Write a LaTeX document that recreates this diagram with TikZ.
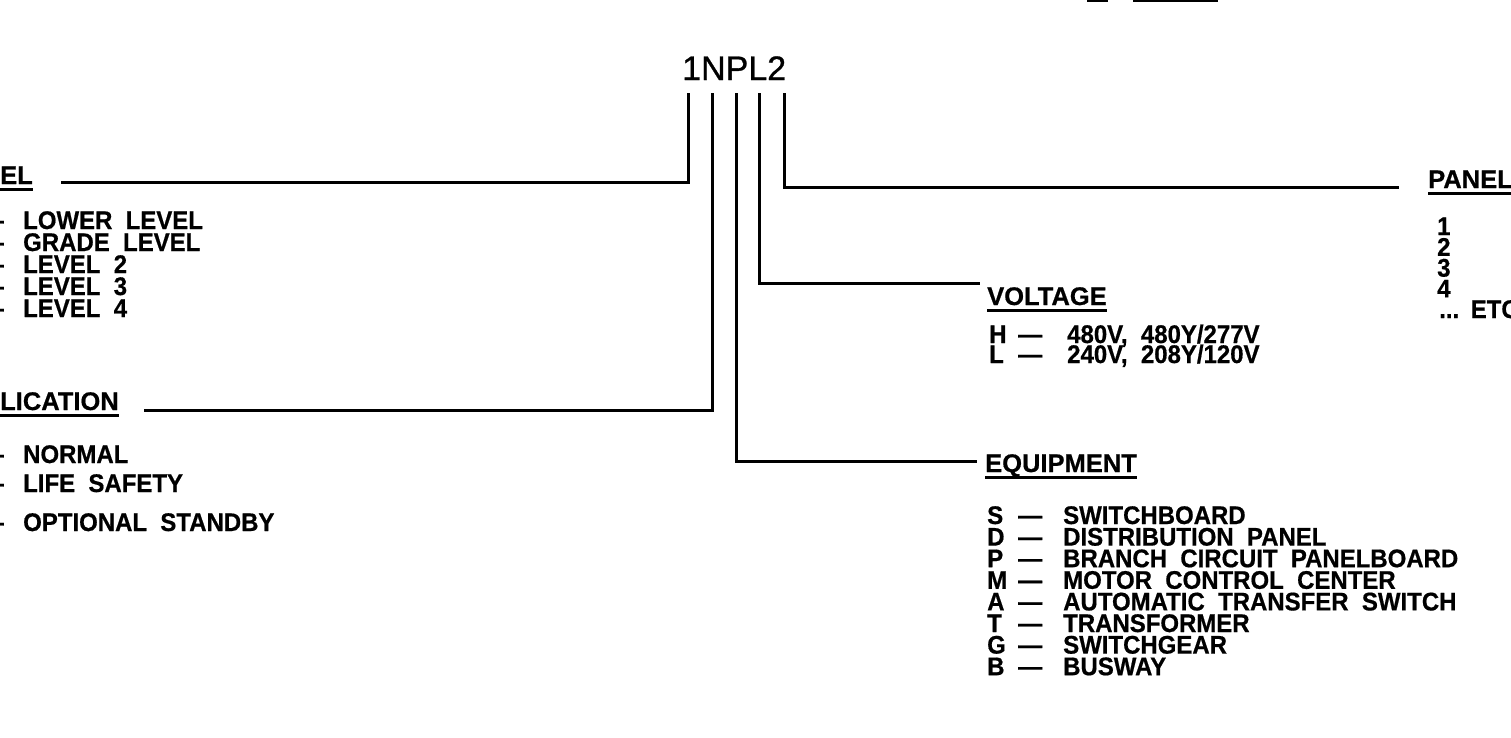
\documentclass[tikz,border=0pt]{standalone}
\usepackage{fontspec}
\setmainfont{Liberation Sans}
\newfontfamily\codefont{Liberation Sans}[FakeBold=0.8]
\newfontfamily\itemfont{Liberation Sans Bold}[WordSpace=2.0,FakeStretch=0.94,FakeBold=0.6]
\newfontfamily\headfont{Liberation Sans Bold}[WordSpace=2.0,FakeBold=0.6]
\begin{document}
\begin{tikzpicture}[x=1pt,y=-1pt,
  txt/.style={inner sep=0pt, anchor=base west, text height=18pt, text depth=1pt, font=\fontsize{25.5}{26}\itemfont},
  hd/.style={inner sep=0pt, anchor=base west, text height=18pt, text depth=1pt, font=\fontsize{25.5}{26}\headfont},
  codetxt/.style={inner sep=0pt, anchor=base west, font=\fontsize{34}{34}\codefont},
  conn/.style={line width=3pt, line cap=rect, line join=miter},
  ul/.style={line width=3pt}]
\useasboundingbox (0,0) rectangle (1511,737);
\clip (0,0) rectangle (1511,737);

% fragments at the top edge
\draw[line width=2pt] (1087,1) -- (1108,1);
\draw[line width=2pt] (1133,1) -- (1218,1);

% the code
\node[codetxt] (code) at (682,80) {1NPL2};

% tops of the five leader lines
\coordinate (t1) at (688,94);
\coordinate (t2) at (712,94);
\coordinate (t3) at (736,94);
\coordinate (t4) at (759,94);
\coordinate (t5) at (784,94);
% free ends
\coordinate (e1) at (62,182);
\coordinate (e2) at (145,410);
\coordinate (e3) at (975,461);
\coordinate (e4) at (978,283);
\coordinate (e5) at (1397,187);

\draw[conn] (t1) |- (e1);
\draw[conn] (t2) |- (e2);
\draw[conn] (t3) |- (e3);
\draw[conn] (t4) |- (e4);
\draw[conn] (t5) |- (e5);

% headings
\node[hd] (hlev) at (0,184) {EL};
\node[hd] (happ) at (0,410) {LICATION};
\node[hd] (hvol) at (987,305) {VOLTAGE};
\node[hd] (hequ) at (985,472) {EQUIPMENT};
\node[hd] (hpan) at (1428,188) {PANEL};
\foreach \n in {hlev,happ,hvol,hequ,hpan}
  \draw[ul] ([yshift=-5pt]\n.base west) -- ([yshift=-5pt]\n.base east);

% level list
\foreach \t [count=\i from 0] in {LOWER LEVEL, GRADE LEVEL, LEVEL 2, LEVEL 3, LEVEL 4} {
  \node[txt] (lv\i) at (23,{229+22*\i}) {\t};
  \node[txt, anchor=base east] (lvd\i) at (4,{229+22*\i}) {—};
}

% application list
\node[txt] (ap0) at (23,463) {NORMAL};
\node[txt] (ap1) at (23,492) {LIFE SAFETY};
\node[txt] (ap2) at (23,531) {OPTIONAL STANDBY};
\node[txt, anchor=base east] (apd0) at (4,463) {—};
\node[txt, anchor=base east] (apd1) at (4,492) {—};
\node[txt, anchor=base east] (apd2) at (4,531) {—};

% voltage list
\node[txt] (vk0) at (989,343) {H};
\node[txt] (vd0) at (1018,343) {—};
\node[txt] (vt0) at (1067,343) {480V, 480Y/277V};
\node[txt] (vk1) at (989,363) {L};
\node[txt] (vd1) at (1018,363) {—};
\node[txt] (vt1) at (1067,363) {240V, 208Y/120V};

% equipment list
\foreach \k/\t [count=\i from 0] in {S/SWITCHBOARD, D/DISTRIBUTION PANEL, P/BRANCH CIRCUIT PANELBOARD, M/MOTOR CONTROL CENTER, A/AUTOMATIC TRANSFER SWITCH, T/TRANSFORMER, G/SWITCHGEAR, B/BUSWAY} {
  \node[txt] (ek\i) at (987,{524+21.6*\i}) {\k};
  \node[txt] (ed\i) at (1018,{524+21.6*\i}) {—};
  \node[txt] (et\i) at (1063,{524+21.6*\i}) {\t};
}

% panel list
\foreach \t [count=\i from 0] in {1,2,3,4} {
  \node[txt] (pn\i) at (1437,{235+20.8*\i}) {\t};
}
\node[txt] (pn4) at (1439,318) {...\hspace{-4pt} ETC};
\end{tikzpicture}
\end{document}
